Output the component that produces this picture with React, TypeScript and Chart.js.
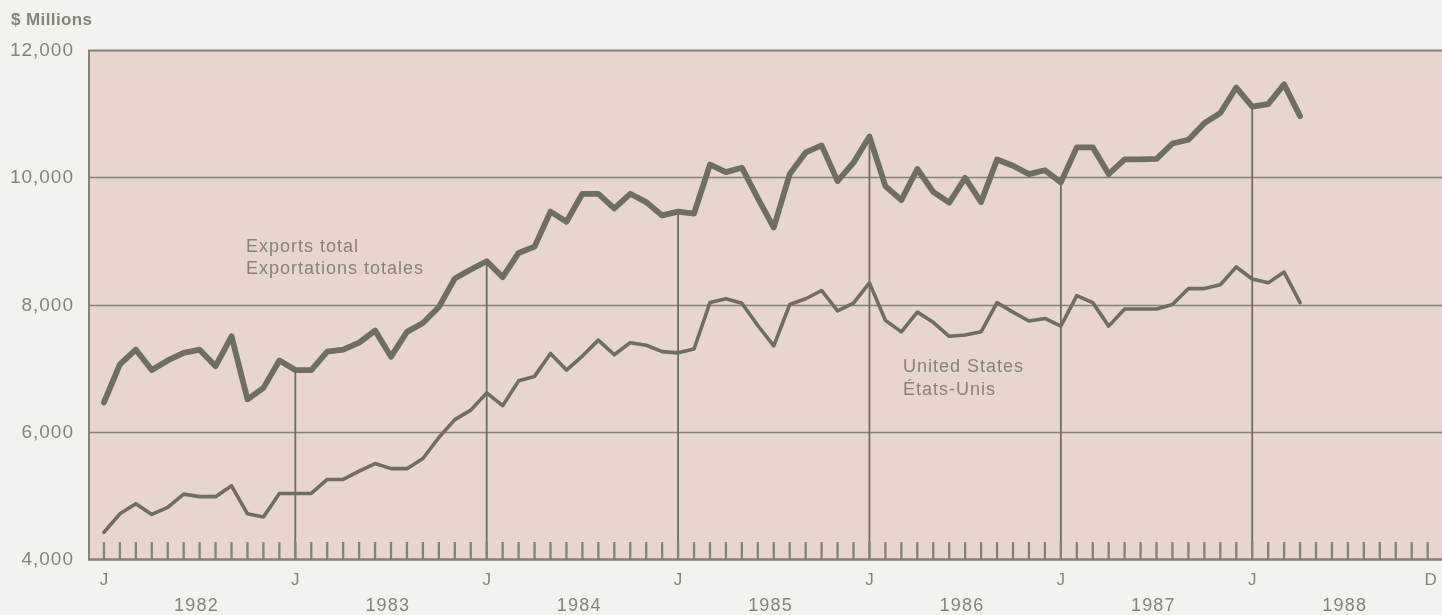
import React, { useEffect, useRef } from "react";
import { Chart, registerables } from "chart.js";

Chart.register(...registerables);

// Month index 0 = January 1982
const exportsTotal: number[] = [
  6460, 7060, 7290, 6970, 7120, 7240, 7290, 7030, 7500, 6510, 6690, 7120,
  6970, 6970, 7260, 7290, 7400, 7590, 7180, 7570, 7710, 7960, 8410, 8550,
  8680, 8430, 8810, 8910, 9460, 9300, 9740, 9740, 9510, 9740, 9610, 9400,
  9460, 9430, 10200, 10080, 10150, 9670, 9210, 10050, 10390, 10500, 9940, 10230,
  10640, 9860, 9640, 10130, 9770, 9600, 9990, 9610, 10280, 10180, 10050, 10110,
  9920, 10470, 10470, 10050, 10280, 10280, 10290, 10530, 10590, 10850, 11010, 11410,
  11110, 11150, 11460, 10960,
];

const unitedStates: number[] = [
  4420, 4710, 4870, 4700, 4810, 5020, 4980, 4980, 5150, 4710, 4660, 5030,
  5030, 5030, 5250, 5250, 5380, 5500, 5420, 5420, 5580, 5910, 6190, 6340,
  6610, 6410, 6800, 6870, 7230, 6970, 7190, 7440, 7210, 7400, 7360, 7260,
  7240, 7300, 8030, 8090, 8020, 7670, 7350, 8000, 8090, 8220, 7900, 8020,
  8340, 7750, 7570, 7880, 7720, 7500, 7520, 7570, 8030, 7880, 7740, 7780,
  7660, 8140, 8030, 7660, 7930, 7930, 7930, 8000, 8250, 8250, 8310, 8590,
  8400, 8340, 8510, 8030,
];

const years: string[] = ["1982", "1983", "1984", "1985", "1986", "1987", "1988"];
const yTicks: number[] = [4000, 6000, 8000, 10000, 12000];
const monthCount = 84; // Jan 1982 .. Dec 1988
const seriesLabels: string[][] = [
  ["Exports total", "Exportations totales"],
  ["United States", "États-Unis"],
];
const unitLabel = "$ Millions";

const PAGE_BG = "#f4f2ee";
const PLOT_BG = "#e7d5ce";
const LINE = "#6e6e62";
const GRID = "#838276";
const TEXT = "#85837a";
const FONT = "'Liberation Sans', Arial, sans-serif";

const decorPlugin = {
  id: "decor",
  beforeDraw(chart: any) {
    const { ctx, chartArea: a } = chart;
    ctx.save();
    ctx.fillStyle = PAGE_BG;
    ctx.fillRect(0, 0, chart.width, chart.height);
    ctx.fillStyle = PLOT_BG;
    ctx.fillRect(a.left, a.top, a.right - a.left, a.bottom - a.top);
    ctx.restore();
  },
  beforeDatasetsDraw(chart: any) {
    const { ctx, chartArea: a, scales } = chart;
    const xs = scales.x;
    const ys = scales.y;
    ctx.save();
    ctx.strokeStyle = GRID;
    ctx.lineCap = "butt";
    // horizontal grid lines
    yTicks.forEach((v) => {
      const y = Math.round(ys.getPixelForValue(v)) + 0.5;
      ctx.lineWidth = v === 4000 ? 2.5 : v === 12000 ? 2 : 1.6;
      ctx.beginPath();
      ctx.moveTo(a.left, y);
      ctx.lineTo(a.right, y);
      ctx.stroke();
    });
    // left border
    ctx.lineWidth = 2;
    ctx.beginPath();
    ctx.moveTo(a.left + 1, a.top);
    ctx.lineTo(a.left + 1, a.bottom);
    ctx.stroke();
    // January drop lines up to the total exports line
    ctx.strokeStyle = LINE;
    ctx.lineWidth = 1.8;
    for (let i = 12; i < exportsTotal.length; i += 12) {
      const x = xs.getPixelForValue(i);
      ctx.beginPath();
      ctx.moveTo(x, a.bottom);
      ctx.lineTo(x, ys.getPixelForValue(exportsTotal[i]));
      ctx.stroke();
    }
    // monthly ticks
    ctx.strokeStyle = GRID;
    ctx.lineWidth = 2.3;
    for (let i = 0; i < monthCount; i++) {
      const x = xs.getPixelForValue(i);
      ctx.beginPath();
      ctx.moveTo(x, a.bottom);
      ctx.lineTo(x, a.bottom - 17);
      ctx.stroke();
    }
    ctx.restore();
  },
  afterDraw(chart: any) {
    const { ctx, chartArea: a, scales } = chart;
    const xs = scales.x;
    const ys = scales.y;
    ctx.save();
    ctx.fillStyle = TEXT;
    ctx.textBaseline = "middle";
    // unit label
    ctx.font = `bold 17px ${FONT}`;
    (ctx as any).letterSpacing = "0.4px";
    ctx.textAlign = "left";
    ctx.fillText(unitLabel, 11, 20);
    // y labels
    ctx.font = `19px ${FONT}`;
    (ctx as any).letterSpacing = "1px";
    ctx.textAlign = "right";
    yTicks.forEach((v) => {
      ctx.fillText(v.toLocaleString("en-US"), 74, ys.getPixelForValue(v) + 1);
    });
    // month letters
    ctx.font = `17px ${FONT}`;
    (ctx as any).letterSpacing = "0px";
    ctx.textAlign = "center";
    for (let i = 0; i < monthCount; i += 12) {
      ctx.fillText("J", xs.getPixelForValue(i), a.bottom + 21);
    }
    ctx.fillText("D", xs.getPixelForValue(monthCount - 1) + 3, a.bottom + 21);
    // years
    ctx.font = `18px ${FONT}`;
    (ctx as any).letterSpacing = "1.2px";
    years.forEach((yr, k) => {
      ctx.fillText(yr, xs.getPixelForValue(k * 12 + 5.8), a.bottom + 47);
    });
    // series annotations
    ctx.font = `18px ${FONT}`;
    (ctx as any).letterSpacing = "1px";
    ctx.textAlign = "left";
    const exX = xs.getPixelForValue(8.9);
    ctx.fillText(seriesLabels[0][0], exX, ys.getPixelForValue(8900));
    ctx.fillText(seriesLabels[0][1], exX, ys.getPixelForValue(8550));
    const usX = xs.getPixelForValue(50.1);
    ctx.fillText(seriesLabels[1][0], usX, ys.getPixelForValue(7020));
    ctx.fillText(seriesLabels[1][1], usX, ys.getPixelForValue(6650));
    ctx.restore();
  },
};

export default function App() {
  const canvasRef = useRef<HTMLCanvasElement | null>(null);

  useEffect(() => {
    document.body.style.margin = "0";
    document.body.style.background = PAGE_BG;
    const canvas = canvasRef.current;
    if (!canvas) return;
    const chart = new Chart(canvas, {
      type: "line",
      data: {
        datasets: [
          {
            label: seriesLabels[1].join(" / "),
            data: unitedStates.map((v, i) => ({ x: i, y: v })),
            borderColor: LINE,
            borderWidth: 3.6,
            pointRadius: 0,
            tension: 0,
            borderJoinStyle: "round",
            borderCapStyle: "round",
            fill: false,
          },
          {
            label: seriesLabels[0].join(" / "),
            data: exportsTotal.map((v, i) => ({ x: i, y: v })),
            borderColor: LINE,
            borderWidth: 5.8,
            pointRadius: 0,
            tension: 0,
            borderJoinStyle: "round",
            borderCapStyle: "round",
            fill: false,
          },
        ],
      },
      options: {
        responsive: false,
        animation: false,
        layout: { padding: { left: 88, right: 0, top: 50, bottom: 56 } },
        plugins: {
          legend: { display: false },
          tooltip: { enabled: false },
        },
        scales: {
          x: { type: "linear", min: -1, max: 83.9, display: false },
          y: { type: "linear", min: 4000, max: 12000, display: false },
        },
      },
      plugins: [decorPlugin],
    });
    return () => chart.destroy();
  }, []);

  return (
    <div style={{ width: 1442, height: 615 }}>
      <canvas ref={canvasRef} width={1442} height={615} style={{ display: "block" }} />
    </div>
  );
}
